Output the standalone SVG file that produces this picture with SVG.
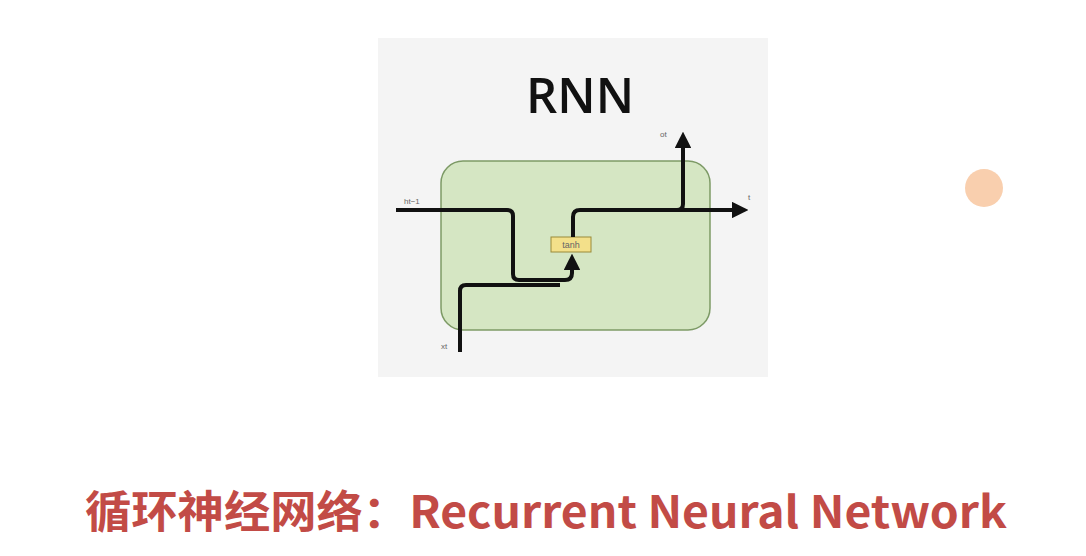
<svg xmlns="http://www.w3.org/2000/svg" width="1086" height="556" viewBox="0 0 1086 556">
<defs>
<style>
.wire{fill:none;stroke:#111;stroke-width:4;stroke-linejoin:round;stroke-linecap:butt}
.lbl{font-family:"Liberation Sans",Arial,sans-serif;font-size:8px;fill:#666}
</style>
<marker id="ah" viewBox="0 0 10 10" refX="5" refY="5" markerWidth="4.2" markerHeight="4.2" orient="auto" markerUnits="strokeWidth">
<path d="M0,0 L10,5 L0,10 z" fill="#111"/>
</marker>
</defs>
<rect x="0" y="0" width="1086" height="556" fill="#ffffff"/>
<g id="panel">
<rect x="378" y="38" width="390" height="339" fill="#f4f4f4"/>
<text x="580" y="113" text-anchor="middle" font-family="'Open Sans','Liberation Sans',sans-serif" font-weight="600" font-size="49" fill="#111">RNN</text>
</g>
<g id="cell">
<rect x="441" y="161" width="269" height="169" rx="22" fill="#d5e6c3" stroke="#7d9a66" stroke-width="1.5"/>
</g>
<g id="tanh">
<rect x="551" y="237" width="40" height="15" fill="#f3e08a" stroke="#9a8a3a" stroke-width="1"/>
<text x="571" y="248" text-anchor="middle" font-family="'Liberation Sans',Arial,sans-serif" font-size="9" fill="#666">tanh</text>
</g>
<g id="connectors">
<path class="wire" d="M396,210 H507 Q513,210 513,216 V274 Q513,280 519,280 H565 Q572,280 572,273 V262" marker-end="url(#ah)"/>
<path class="wire" d="M460,352 V291 Q460,285 466,285 H560"/>
<path class="wire" d="M573,237 V217 Q573,210 580,210 H740" marker-end="url(#ah)"/>
<path class="wire" d="M677,210 Q683,210 683,204 V140" marker-end="url(#ah)"/>
</g>
<g id="labels">
<text class="lbl" x="404" y="204">ht−1</text>
<text class="lbl" x="660" y="137">ot</text>
<text class="lbl" x="748" y="200">t</text>
<text class="lbl" x="441" y="349">xt</text>
</g>
<g id="dot">
<circle cx="984" cy="188" r="19" fill="#f9cfae"/>
</g>
<g id="title">
<text x="85" y="528" font-family="'Noto Sans CJK SC',sans-serif" font-weight="bold" font-size="44" fill="#c24b46" textLength="922" lengthAdjust="spacingAndGlyphs">循环神经网络：Recurrent Neural Network</text>
</g>
</svg>
